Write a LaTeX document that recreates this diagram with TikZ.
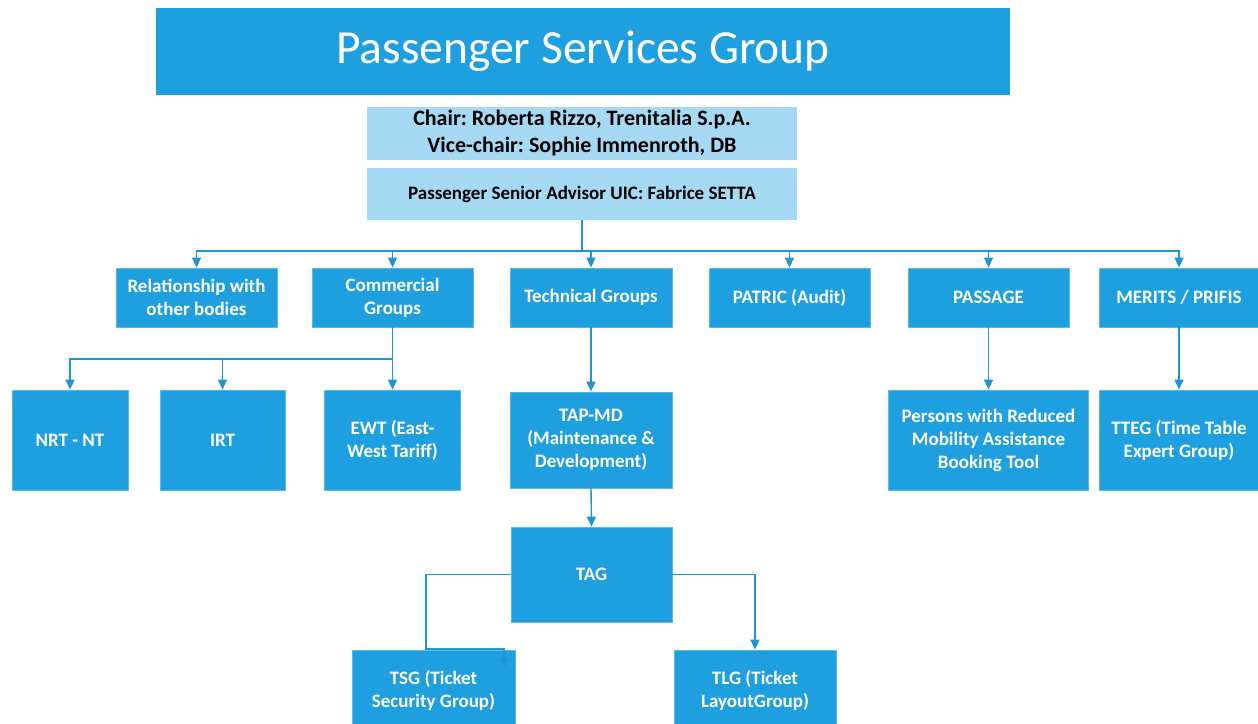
\documentclass[tikz,border=0pt]{standalone}
\usepackage{fontspec}
\setmainfont{Carlito}
\frenchspacing
\usetikzlibrary{arrows.meta}
\definecolor{boxblue}{RGB}{30,160,224}
\definecolor{edgeblue}{RGB}{90,185,235}
\definecolor{lightblue}{RGB}{166,218,244}
\definecolor{lineblue}{RGB}{30,150,212}
\tikzset{
  bluebox/.style={rectangle, fill=boxblue, draw=edgeblue, line width=0.8pt, text=white, align=center,
    inner sep=2pt, font=\fontsize{19}{23}\selectfont\bfseries},
  lightbox/.style={rectangle, fill=lightblue, draw=none, text=black, align=center, inner sep=2pt},
  conn/.style={draw=lineblue, line width=1.4pt},
  arr/.style={conn, -{Triangle[width=9pt,length=10pt]}},
}
\begin{document}
\frenchspacing
\begin{tikzpicture}[x=1pt,y=-1pt]
\useasboundingbox (0,0) rectangle (1258,723);
\fill[white] (0,0) rectangle (1258,723);
% header
\node[rectangle, fill=boxblue, text=white, minimum width=854pt, minimum height=87pt, inner sep=0pt,
  font=\fontsize{47.5}{55}\selectfont] (title) at (583,51.5) {\raisebox{-3pt}{Passenger Services Group}};
\node[lightbox, minimum width=430pt, minimum height=53pt, font=\fontsize{22}{27}\selectfont\bfseries]
  (chair) at (582,133.5) {Chair: Roberta Rizzo, Trenitalia S.p.A.\\Vice-chair: Sophie Immenroth, DB};
\node[lightbox, minimum width=430pt, minimum height=52pt, font=\fontsize{19}{23}\selectfont\bfseries]
  (adv) at (582,194) {Passenger Senior Advisor UIC: Fabrice SETTA};
% row 1
\node[bluebox, minimum width=161pt, minimum height=59pt] (rel) at (196.5,297.5) {Relationship with\\other bodies};
\node[bluebox, minimum width=161pt, minimum height=59pt] (com) at (392.5,297.5) {Commercial\\Groups};
\node[bluebox, minimum width=162pt, minimum height=59pt] (tech) at (591,297.5) {Technical Groups};
\node[bluebox, minimum width=161pt, minimum height=59pt] (patric) at (789.5,297.5) {PATRIC (Audit)};
\node[bluebox, minimum width=161pt, minimum height=59pt] (passage) at (988.5,297.5) {PASSAGE};
\node[bluebox, minimum width=160pt, minimum height=59pt] (merits) at (1179,297.5) {MERITS / PRIFIS};
% row 2
\node[bluebox, minimum width=116pt, minimum height=100pt] (nrt) at (70,440) {NRT - NT};
\node[bluebox, minimum width=125pt, minimum height=100pt] (irt) at (222.5,440) {IRT};
\node[bluebox, minimum width=136pt, minimum height=100pt] (ewt) at (392.5,440) {EWT (East-\\West Tariff)};
\node[bluebox, minimum width=162pt, minimum height=96pt] (tapmd) at (591,440) {TAP-MD\\(Maintenance \&\\Development)};
\node[bluebox, minimum width=200pt, minimum height=100pt] (prm) at (988.5,440) {Persons with Reduced\\Mobility Assistance\\Booking Tool};
\node[bluebox, minimum width=160pt, minimum height=100pt] (tteg) at (1179,440) {TTEG (Time Table\\Expert Group)};
% row 3
\node[bluebox, minimum width=161pt, minimum height=95pt] (tag) at (591.5,574.5) {TAG};
% row 4
\node[bluebox, minimum width=163pt, minimum height=80pt] (tsg) at (433.5,690) {TSG (Ticket\\Security Group)};
\node[bluebox, minimum width=162pt, minimum height=80pt] (tlg) at (755,690) {TLG (Ticket\\LayoutGroup)};
% connectors
\coordinate (bus) at (582,251);
\draw[conn] (adv.south) -- (bus);
\foreach \t in {rel,com,tech,patric,passage,merits}{
  \draw[arr] (bus) -| (\t.north);
}
\coordinate (cbus) at (392.5,359);
\draw[conn] (com.south) -- (cbus);
\draw[arr] (cbus) -| (nrt.north);
\draw[arr] (cbus) -| (irt.north);
\draw[arr] (cbus) -- (ewt.north);
\draw[arr] (tech.south) -- (tapmd.north);
\draw[arr] (tapmd.south) -- (tag.north);
\draw[arr] (passage.south) -- (prm.north);
\draw[arr] (merits.south) -- (tteg.north);
\coordinate (tl1) at (426,574.5);
\coordinate (tl2) at (426,649);
\coordinate (tl3) at (504,649);
\coordinate (tl4) at (504,668);
\draw[arr] (tag.west) -- (tl1) -- (tl2) -- (tl3) -- (tl4);
\coordinate (tr1) at (755,574.5);
\draw[arr] (tag.east) -- (tr1) -- (tlg.north);
\end{tikzpicture}
\end{document}
